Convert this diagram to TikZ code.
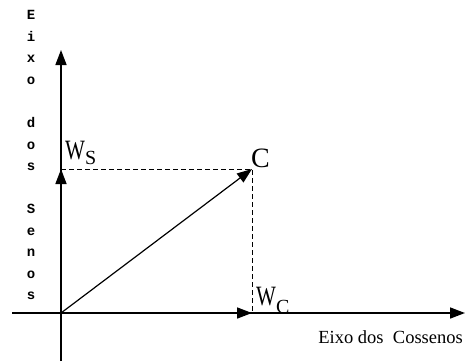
\documentclass[tikz,border=0pt]{standalone}
\usepackage{fontspec}
\setmainfont{Liberation Serif}
\newfontfamily\axisfont{Liberation Mono}
\usetikzlibrary{arrows.meta}

\begin{document}
\begin{tikzpicture}[x=1pt,y=-1pt,
  vec/.style={-{Triangle[length=15pt,width=11pt]}},
  axisline/.style={line width=1.6pt},
  guide/.style={dash pattern=on 5pt off 3pt,line width=0.9pt},
  lbl/.style={inner sep=0pt,anchor=base west,font=\fontsize{28}{28}\selectfont},
  vletter/.style={inner sep=0pt,anchor=base,font=\axisfont\bfseries\fontsize{14}{14}\selectfont}]
\useasboundingbox (0,0) rectangle (465,361);
\coordinate (o) at (61,313);
\coordinate (xl) at (12,313);
\coordinate (xr) at (465,313);
\coordinate (yb) at (61,361);
\coordinate (yt) at (61,50);
\coordinate (ws) at (61,169);
\coordinate (wc) at (252,313);
\coordinate (c) at (252,169);
% axes
\draw[axisline,vec] (xl) -- (xr);
\draw[axisline,vec] (yb) -- (yt);
% components and the vector
\draw[axisline,vec] (o) -- (ws);
\draw[axisline,vec] (o) -- (wc);
\draw[line width=1.2pt,vec] (o) -- (c);
\draw[guide] (ws) -- (c) -- (wc);
% labels
\node[lbl] (wslbl) at (65,159) {\scalebox{0.75}[1]{W}\raisebox{-5pt}{\fontsize{20}{20}\selectfont S}};
\node[lbl] (clbl) at (251,167) {C};
\node[lbl] (wclbl) at (256,305) {\scalebox{0.75}[1]{W}\raisebox{-8pt}{\fontsize{20}{20}\selectfont C}};
\node[inner sep=0pt,anchor=base east,font=\fontsize{18.5}{18.5}\selectfont] (xname) at (463,343) {Eixo dos\ \ Cossenos};
\foreach \ch/\k in {E/0,i/1,x/2,o/3,d/5,o/6,s/7,S/9,e/10,n/11,o/12,s/13}
  \node[vletter] (lt\k) at (31,20+21.5*\k) {\ch};
\end{tikzpicture}
\end{document}
